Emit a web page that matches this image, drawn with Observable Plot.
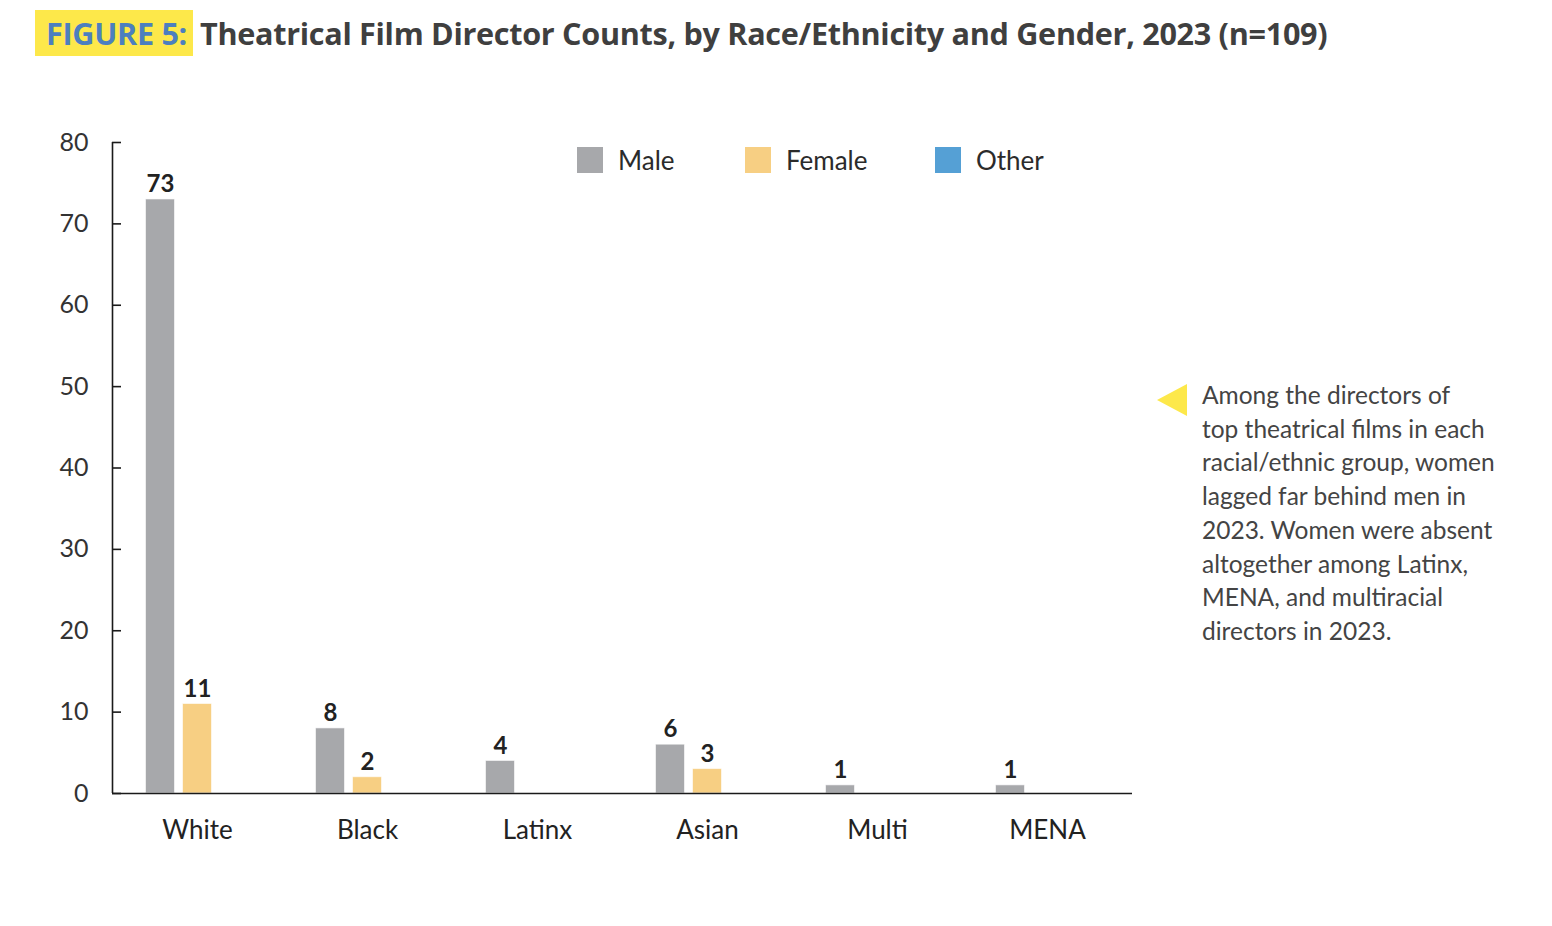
<!DOCTYPE html>
<html>
<head>
<meta charset="utf-8">
<script src="https://cdn.jsdelivr.net/npm/d3@7"></script>
<script src="https://cdn.jsdelivr.net/npm/@observablehq/plot@0.6"></script>
<style>
  html, body { margin: 0; padding: 0; background: #fff; }
  body { width: 1552px; height: 926px; position: relative; overflow: hidden; font-family: Lato, "Noto Sans", sans-serif; }
  #title { position: absolute; left: 35px; top: 10px; height: 46px; display: flex; align-items: center; white-space: nowrap; font-family: "Open Sans", sans-serif; font-weight: 700; font-size: 30.6px; letter-spacing: -0.3px; }
  #title .fig { background: #fde84a; color: #4c7fbf; height: 46px; display: flex; align-items: center; padding: 0 6px 0 11px; line-height: 46px; }
  #title .main { color: #3f3f3f; margin-left: 7px; }
  #chart { position: absolute; left: 0; top: 0; }
  .lg { position: absolute; top: 147px; display: flex; align-items: center; font-size: 26px; color: #2b2b2b; height: 26px; }
  .lg .sw { width: 26px; height: 26px; display: inline-block; margin-right: 15px; }
  #note { position: absolute; left: 1202px; top: 378px; font-size: 24.5px; line-height: 33.7px; color: #444; white-space: nowrap; }
  #tri { position: absolute; left: 1157px; top: 384px; width: 0; height: 0; border-top: 16px solid transparent; border-bottom: 16px solid transparent; border-right: 30px solid #fde84a; }
</style>
</head>
<body>
<div id="title"><span class="fig">FIGURE 5:</span><span class="main">Theatrical Film Director Counts, by Race/Ethnicity and Gender, 2023 (n=109)</span></div>
<div id="chart"></div>
<div id="tri"></div>
<div id="note">Among the directors of<br>top theatrical films in each<br>racial/ethnic group, women<br>lagged far behind men in<br>2023. Women were absent<br>altogether among Latinx,<br>MENA, and multiracial<br>directors in 2023.</div>
<script>
const categories = ["White", "Black", "Latinx", "Asian", "Multi", "MENA"];
const genders = ["Male", "Female", "Other"];
const male = [73, 8, 4, 6, 1, 1];
const female = [11, 2, 0, 3, 0, 0];
const other = [0, 0, 0, 0, 0, 0];
const colors = ["#a7a8ab", "#f7cf83", "#55a0d5"];
const yTicks = [0, 10, 20, 30, 40, 50, 60, 70, 80];

const series = [male, female, other];
const data = [];
categories.forEach((c, i) => {
  genders.forEach((g, j) => data.push({category: c, gender: g, value: series[j][i]}));
});
const labeled = data.filter(d => d.value > 0);

const plot = Plot.plot({
  width: 1552,
  height: 870,
  marginLeft: 112,
  marginRight: 420,
  marginTop: 142,
  marginBottom: 77,
  style: {fontFamily: "Lato, 'Noto Sans', sans-serif", background: "transparent"},
  fx: {domain: categories, padding: 0, round: false},
  x: {domain: genders, paddingInner: 0.216, paddingOuter: 0.905, round: false, axis: null},
  y: {domain: [0, 80], axis: null},
  color: {domain: genders, range: colors},
  marks: [
    Plot.barY(labeled, {fx: "category", x: "gender", y: "value", fill: "gender", stroke: "#fff", strokeOpacity: 0.6, strokeWidth: 1}),
    Plot.ruleY([0], {stroke: "#1a1a1a", strokeWidth: 1.6}),
    Plot.ruleX([0], {fx: () => "White", x: null, y1: 0, y2: 80, dx: -85, stroke: "#1a1a1a", strokeWidth: 1.6}),
    Plot.ruleY(yTicks, {fx: () => "White", y: d => d, insetRight: 161, stroke: "#1a1a1a", strokeWidth: 1.6}),
    Plot.text(yTicks, {fx: () => "White", y: d => d, text: d => String(d), frameAnchor: "left", textAnchor: "end", dx: -24, fontSize: 25, fill: "#333"}),
    Plot.text(labeled, {fx: "category", x: "gender", y: "value", text: d => String(d.value), dy: -15, fontSize: 24, fontWeight: 700, fill: "#222"}),
    Plot.axisFx({anchor: "bottom", tickSize: 0, tickPadding: 27, fontSize: 26, label: null, fill: "#222"})
  ]
});
document.getElementById("chart").appendChild(plot);

const lefts = [577, 745, 935];
genders.forEach((g, j) => {
  const item = document.createElement("div");
  item.className = "lg";
  item.style.left = lefts[j] + "px";
  item.innerHTML = `<span class="sw" style="background:${colors[j]}"></span><span>${g}</span>`;
  document.body.appendChild(item);
});
</script>
</body>
</html>
